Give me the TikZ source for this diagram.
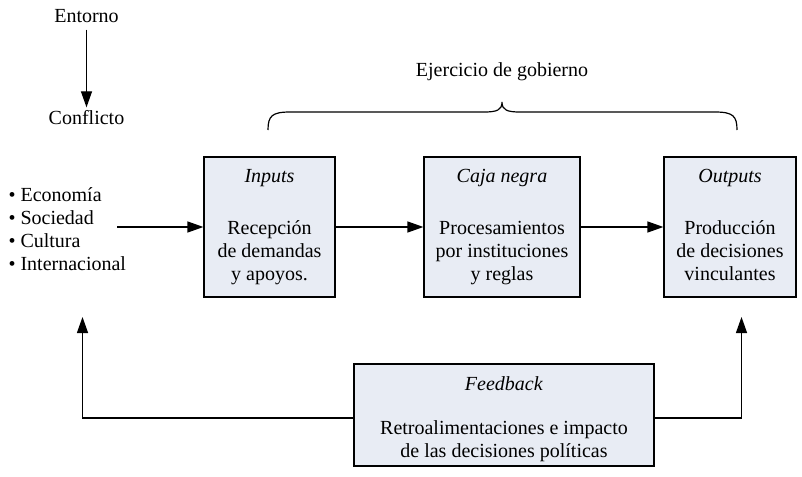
\documentclass[tikz,border=0pt]{standalone}
\usepackage{fontspec}
\setmainfont{Liberation Serif}
\usetikzlibrary{arrows.meta}
\definecolor{boxfill}{HTML}{E8ECF4}
\begin{document}
\begin{tikzpicture}[x=1pt,y=-1pt,
  every node/.style={font=\fontsize{20}{23}\selectfont},
  box/.style={draw, line width=1.2pt, fill=boxfill, align=center, inner sep=0pt},
  arr/.style={line width=1.3pt, -{Triangle[length=16pt,width=11pt]}}]
\useasboundingbox (0,0) rectangle (802,476);
% top left
\node (ent) at (86.5,16) {Entorno};
\node (con) at (86.5,118) {Conflicto};
\draw[arr, shorten <=3.5pt] (ent) -- (con);
% list
\node[anchor=west, align=left] (lst) at (5,229) {• Economía\\• Sociedad\\• Cultura\\• Internacional};
\coordinate (ls) at (117,227);
% boxes
\node[box, minimum width=131pt, minimum height=140pt] (in) at (269.5,227)
  {\strut\textit{Inputs}\\[29pt]\strut Recepción\\\strut de demandas\\\strut y apoyos.};
\node[box, minimum width=156pt, minimum height=140pt] (caja) at (502,227)
  {\strut\textit{Caja negra}\\[29pt]\strut Procesamientos\\\strut por instituciones\\\strut y reglas};
\node[box, minimum width=132pt, minimum height=140pt] (out) at (730,227)
  {\strut\textit{Outputs}\\[29pt]\strut Producción\\\strut de decisiones\\\strut vinculantes};
\node[box, minimum width=300pt, minimum height=102pt] (fb) at (504,415)
  {\rule{0pt}{24pt}\textit{Feedback}\\[21pt]\strut Retroalimentaciones e impacto\\\strut de las decisiones políticas};
\draw[arr] (ls) -- (in);
\draw[arr] (in) -- (caja);
\draw[arr] (caja) -- (out);
\coordinate (fl) at (82.5,317);
\coordinate (fr) at (741.5,317);
\draw[arr] ([yshift=-3pt]fb.west) -| (fl);
\draw[arr] ([yshift=-3pt]fb.east) -| (fr);
% brace
\node (gob) at (502,72) {Ejercicio de gobierno};
\draw[line width=1.2pt] (268,130) .. controls (268,116) and (272,112) .. (290,112) -- (484,112)
  .. controls (497,112) and (502,110) .. (502,102)
  .. controls (502,110) and (507,112) .. (520,112) -- (715,112)
  .. controls (733,112) and (737,116) .. (737,130);
\end{tikzpicture}
\end{document}
